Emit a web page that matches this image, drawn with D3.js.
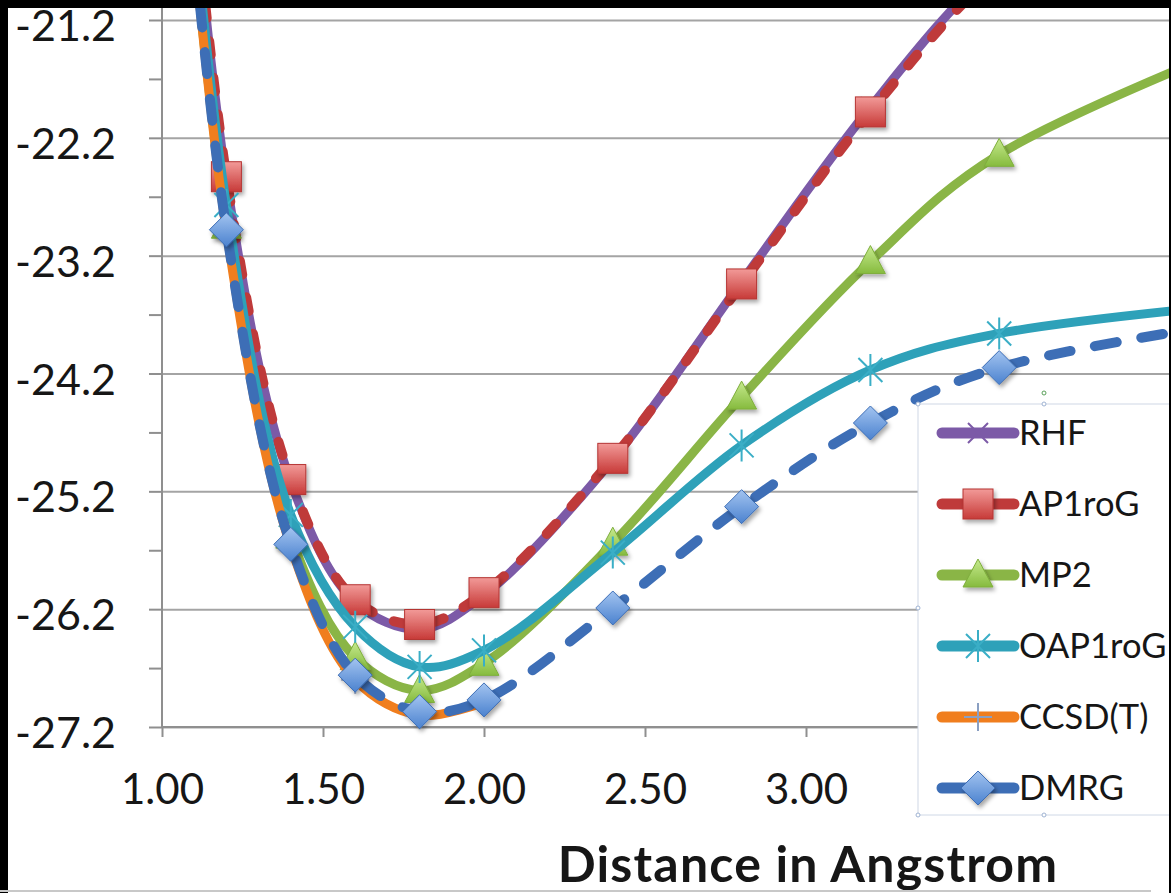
<!DOCTYPE html>
<html>
<head>
<meta charset="utf-8">
<script src="https://cdn.jsdelivr.net/npm/d3@7"></script>
<style>
  html, body { margin: 0; padding: 0; background: #000; }
  svg { display: block; }
  text { font-family: Lato, "Open Sans", sans-serif; fill: #161616; }
</style>
</head>
<body>
<div class="viz"></div>
<script>
// bond distances (Angstrom); last point sits beyond the visible crop
const distances = [1.0, 1.2, 1.4, 1.6, 1.8, 2.0, 2.4, 2.8, 3.2, 3.6, 5.0];

// energies per method
const rhf     = [-17.0, -22.56, -25.12, -26.14, -26.37, -26.08, -24.93, -23.42, -21.94, -20.70, -17.5];
const ap1rog  = [-17.0, -22.53, -25.10, -26.12, -26.33, -26.06, -24.92, -23.44, -21.98, -20.75, -17.6];
const mp2     = [-17.5, -22.95, -25.58, -26.61, -26.89, -26.66, -25.64, -24.40, -23.25, -22.34, -20.7];
const oap1rog = [-17.3, -22.77, -25.40, -26.35, -26.69, -26.55, -25.72, -24.81, -24.17, -23.86, -23.45];
const ccsdt   = [-17.5, -22.99, -25.67, -26.80, -27.10, -26.99, null, null, null, null, null];
const dmrg    = [-17.5, -22.98, -25.65, -26.76, -27.07, -26.97, -26.19, -25.33, -24.62, -24.15, -23.5];

const seriesNames = ["RHF", "AP1roG", "MP2", "OAP1roG", "CCSD(T)", "DMRG"];
const yMajorTicks = [-27.2, -26.2, -25.2, -24.2, -23.2, -22.2, -21.2];
const yMinorTicks = [-26.7, -25.7, -24.7, -23.7, -22.7, -21.7];
const xTicks = [1.0, 1.5, 2.0, 2.5, 3.0, 3.5];
const xTitle = "Distance in Angstrom";

const width = 1171, height = 893;
const margin = {top: 8, left: 162, right: 2, bottom: 166};

const svg = d3.select(".viz").append("svg")
    .attr("width", width)
    .attr("height", height);

svg.append("rect").attr("width", width).attr("height", height).attr("fill", "#fff");

const x = d3.scaleLinear().domain([1, 4]).range([162, 1128]);
const y = d3.scaleLinear().domain([-27.2, -21.2]).range([727, 20]);

const defs = svg.append("defs");
defs.append("clipPath").attr("id", "plot-clip")
  .append("rect").attr("x", margin.left).attr("y", margin.top)
  .attr("width", width - margin.left).attr("height", 760);

const shadow = defs.append("filter").attr("id", "shadow")
    .attr("x", "-50%").attr("y", "-50%").attr("width", "200%").attr("height", "200%");
shadow.append("feDropShadow").attr("dx", 2).attr("dy", 3).attr("stdDeviation", 2)
    .attr("flood-color", "#000").attr("flood-opacity", 0.35);

function grad(id, top, bottom) {
  const g = defs.append("linearGradient").attr("id", id)
      .attr("x1", 0).attr("y1", 0).attr("x2", 0).attr("y2", 1);
  g.append("stop").attr("offset", "0%").attr("stop-color", top);
  g.append("stop").attr("offset", "100%").attr("stop-color", bottom);
}
grad("g-red", "#f29a98", "#c73a38");
grad("g-green", "#c6ea8e", "#86bb3e");
grad("g-blue", "#a3c4f0", "#4b82cf");

// gridlines
svg.append("g")
    .attr("transform", `translate(${margin.left},0)`)
    .call(d3.axisLeft(y).tickValues(yMajorTicks).tickSize(-(width - margin.left)).tickFormat(""))
    .call(g => g.select(".domain").remove())
    .call(g => g.selectAll("line").attr("stroke", "#a4a4a4").attr("stroke-width", 2));

// y axis (plain hyphen for the minus sign, as in the original)
svg.append("g")
    .attr("transform", `translate(${margin.left},0)`)
    .call(d3.axisLeft(y)
      .tickValues(yMajorTicks.concat(yMinorTicks))
      .tickSize(13)
      .tickPadding(33)
      .tickFormat(d => yMajorTicks.includes(d) ? d.toFixed(1) : ""))
    .call(g => g.select(".domain").attr("stroke", "#8f8f8f").attr("stroke-width", 2)
        .attr("d", `M0,${margin.top}V727`))
    .call(g => g.selectAll("line").attr("stroke", "#8f8f8f").attr("stroke-width", 2))
    .call(g => g.selectAll("text").attr("font-size", 43).attr("dy", "0.48em").attr("fill", "#161616"));

// x axis
svg.append("g")
    .attr("transform", `translate(0,${y(-27.2)})`)
    .call(d3.axisBottom(x).tickValues(xTicks).tickSize(10).tickPadding(37).tickFormat(d3.format(".2f")))
    .call(g => g.select(".domain").attr("stroke", "#8f8f8f").attr("stroke-width", 2)
        .attr("d", `M${margin.left},0H${width}`))
    .call(g => g.selectAll("line").attr("stroke", "#8f8f8f").attr("stroke-width", 2))
    .call(g => g.selectAll("text").attr("font-size", 42).attr("fill", "#161616"));

svg.append("text")
    .attr("x", 808).attr("y", 882)
    .attr("text-anchor", "middle")
    .attr("font-size", 50).attr("font-weight", "bold")
    .attr("letter-spacing", 1.2)
    .text(xTitle);

// markers
function drawMarker(g, type, color) {
  if (type === "x") {
    g.append("path").attr("d", "M-10,-10L10,10M-10,10L10,-10")
      .attr("stroke", color).attr("stroke-width", 2).attr("fill", "none");
  } else if (type === "square") {
    g.append("rect").attr("x", -15).attr("y", -15).attr("width", 30).attr("height", 30)
      .attr("fill", "url(#g-red)").attr("stroke", "#b53533").attr("stroke-width", 1)
      .attr("filter", "url(#shadow)");
  } else if (type === "triangle") {
    g.append("path").attr("d", "M0,-16L15,12L-15,12Z")
      .attr("fill", "url(#g-green)").attr("stroke", "#7eae3c").attr("stroke-width", 1)
      .attr("filter", "url(#shadow)");
  } else if (type === "star") {
    g.append("path").attr("d", "M0,-16V16M-12,-12L12,12M-12,12L12,-12")
      .attr("stroke", color).attr("stroke-width", 2).attr("fill", "none");
  } else if (type === "plus") {
    g.append("path").attr("d", "M0,-14V14M-14,0H14")
      .attr("stroke", color).attr("stroke-width", 2).attr("fill", "none");
  } else if (type === "diamond") {
    g.append("path").attr("d", "M0,-17L17,0L0,17L-17,0Z")
      .attr("fill", "url(#g-blue)").attr("stroke", "#3c6db5").attr("stroke-width", 1)
      .attr("filter", "url(#shadow)");
  }
}

const series = [
  {name: seriesNames[0], values: rhf,     color: "#7c5aa7", marker: "x",        markerColor: "#7c5aa7"},
  {name: seriesNames[1], values: ap1rog,  color: "#bf3a3a", marker: "square",   dash: "14,23"},
  {name: seriesNames[2], values: mp2,     color: "#8ab546", marker: "triangle"},
  {name: seriesNames[3], values: oap1rog, color: "#2ea1b9", marker: "star",     markerColor: "#3aaec6"},
  {name: seriesNames[4], values: ccsdt,   color: "#f07e1e", marker: "plus",     markerColor: "#8a9fc2"},
  {name: seriesNames[5], values: dmrg,    color: "#3d6eb6", marker: "diamond",  dash: "22,25"}
];

const line = d3.line()
    .defined(d => d[1] !== null)
    .x(d => x(d[0]))
    .y(d => y(d[1]))
    .curve(d3.curveCatmullRom.alpha(0.5));

const plot = svg.append("g").attr("clip-path", "url(#plot-clip)");

series.forEach(s => {
  const pts = distances.map((d, i) => [d, s.values[i]]);
  const g = plot.append("g");
  g.append("path")
    .attr("d", line(pts))
    .attr("fill", "none")
    .attr("stroke", s.color)
    .attr("stroke-width", s.dash ? 10 : 9)
    .attr("stroke-linecap", "round")
    .attr("stroke-linejoin", "round")
    .attr("stroke-dasharray", s.dash || null);
  g.selectAll("g.mk").data(pts.filter(p => p[1] !== null)).enter().append("g")
    .attr("class", "mk")
    .attr("transform", p => `translate(${x(p[0])},${y(p[1])})`)
    .each(function() { drawMarker(d3.select(this), s.marker, s.markerColor || s.color); });
});

// legend
const legend = svg.append("g").attr("transform", "translate(918,404)");
legend.append("rect")
    .attr("width", 270).attr("height", 411)
    .attr("fill", "#fff").attr("stroke", "#cfd8e6").attr("stroke-width", 1);

series.forEach((s, i) => {
  const row = legend.append("g").attr("transform", `translate(0,${29 + i * 71})`);
  row.append("line")
    .attr("x1", 24).attr("x2", 96)
    .attr("stroke", s.color).attr("stroke-width", 11).attr("stroke-linecap", "round");
  const m = row.append("g").attr("transform", "translate(60,0)");
  drawMarker(m, s.marker, s.markerColor || s.color);
  row.append("text")
    .attr("x", 101).attr("dy", "0.36em")
    .attr("font-size", 34.5)
    .text(s.name);
});

// selection handles around the legend
[[0, 0], [126, 0], [0, 204], [0, 411], [126, 411]].forEach(p => {
  legend.append("circle").attr("cx", p[0]).attr("cy", p[1]).attr("r", 2)
    .attr("fill", "#fff").attr("stroke", "#9fb3d3").attr("stroke-width", 1);
});
legend.append("circle").attr("cx", 126).attr("cy", -11).attr("r", 2)
    .attr("fill", "#fff").attr("stroke", "#5aa05a").attr("stroke-width", 1);

// black frame of the screenshot
svg.append("rect").attr("x", 0).attr("y", 0).attr("width", width).attr("height", margin.top).attr("fill", "#000");
svg.append("rect").attr("x", 0).attr("y", 0).attr("width", 8).attr("height", height).attr("fill", "#000");
svg.append("rect").attr("x", width - 2).attr("y", 0).attr("width", 2).attr("height", height).attr("fill", "#000");
svg.append("line").attr("x1", 0).attr("x2", width - 20).attr("y1", 891).attr("y2", 891)
    .attr("stroke", "#c8c8c8").attr("stroke-width", 2);
</script>
</body>
</html>
